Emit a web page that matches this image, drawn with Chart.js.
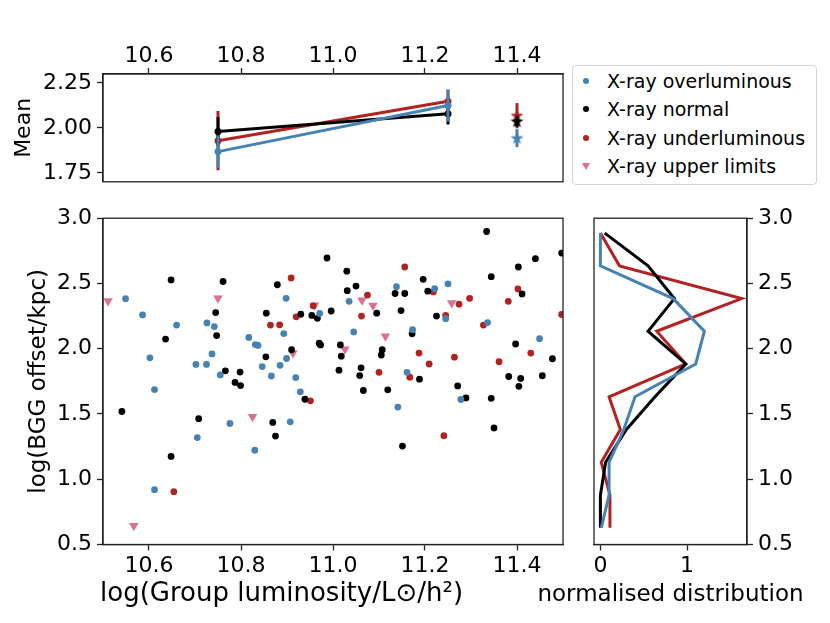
<!DOCTYPE html>
<html>
<head>
<meta charset="utf-8">
<script src="https://cdn.jsdelivr.net/npm/chart.js@4.4.0/dist/chart.umd.min.js"></script>
<style>
  body { margin: 0; background: #fff; }
  #wrap { position: relative; width: 830px; height: 623px; font-family: "DejaVu Sans", sans-serif; }
  #wrap canvas { position: absolute; }
  #legend {
    position: absolute; left: 572px; top: 65px; width: 245px; height: 120px;
    box-sizing: border-box; border: 1px solid #d4d4d4; border-radius: 4px; background: #fff;
  }
  #legend .row { position: absolute; left: 0; height: 28px; line-height: 28px; font-size: 19px; color: #000; white-space: nowrap; }
  #legend .row span.txt { position: absolute; left: 34px; }
  #legend .dot { position: absolute; left: 10px; top: 11px; width: 6px; height: 6px; border-radius: 50%; }
  #legend .tri { position: absolute; left: 9px; top: 11px; width: 0; height: 0;
    border-left: 4px solid transparent; border-right: 4px solid transparent; border-top: 7px solid #db7093; }
</style>
</head>
<body>
<div id="wrap">
  <canvas id="meanChart" width="580" height="200" style="left:0;top:0;width:580px;height:200px"></canvas>
  <canvas id="mainChart" width="580" height="423" style="left:0;top:200px;width:580px;height:423px"></canvas>
  <canvas id="distChart" width="310" height="423" style="left:520px;top:200px;width:310px;height:423px"></canvas>
  <div id="legend">
    <div class="row" style="top:1px"><span class="dot" style="background:#4682b4"></span><span class="txt">X-ray overluminous</span></div>
    <div class="row" style="top:29px"><span class="dot" style="background:#000"></span><span class="txt">X-ray normal</span></div>
    <div class="row" style="top:58px"><span class="dot" style="background:#b22222"></span><span class="txt">X-ray underluminous</span></div>
    <div class="row" style="top:86px"><span class="tri"></span><span class="txt">X-ray upper limits</span></div>
  </div>
</div>
<script>
// colours
const BLUE = "#4682b4";
const BLACK = "#000000";
const RED = "#b22222";
const PINK = "#db7093";
const FONT = "'DejaVu Sans', sans-serif";

// scatter: X-ray overluminous
const overX = [10.549, 10.586, 10.660, 10.602, 10.726, 10.742, 10.702, 10.725, 10.737, 10.755,
  10.817, 10.831, 10.837, 10.846, 10.866, 10.885, 10.899, 10.919, 10.893, 10.898,
  10.971, 11.138, 11.035, 11.221, 11.250, 11.245, 11.336, 11.045, 11.173, 11.449,
  11.161, 10.929, 10.612, 10.776, 10.907, 10.705, 10.830, 10.612, 11.141, 11.278];
const overY = [2.383, 2.259, 2.181, 1.930, 2.198, 2.170, 1.880, 1.880, 1.960, 1.799,
  2.086, 2.032, 2.025, 1.863, 1.791, 1.873, 1.925, 1.779, 2.116, 2.386,
  2.270, 2.475, 2.363, 2.460, 2.497, 2.230, 2.200, 2.129, 2.146, 2.077,
  1.819, 1.670, 1.687, 1.427, 1.440, 1.319, 1.222, 0.920, 1.553, 1.611];

// scatter: X-ray normal
const normalX = [10.648, 10.761, 10.636, 10.745, 10.747, 10.766, 10.798, 10.787, 10.799, 10.854,
  10.910, 10.855, 10.879, 10.930, 10.954, 10.966, 10.996, 10.987, 10.970, 10.973,
  11.334, 11.497, 11.440, 11.030, 11.403, 11.196, 11.344, 11.031, 11.050, 11.135,
  11.156, 11.206, 11.411, 11.095, 11.148, 11.225, 11.172, 11.016, 11.018, 11.107,
  11.105, 11.397, 11.477, 11.013, 11.061, 11.058, 11.188, 11.382, 11.408, 11.455,
  11.271, 11.404, 10.939, 10.541, 10.708, 10.869, 10.875, 10.648, 11.066, 11.119,
  11.289, 11.344, 11.350, 11.151];
const normalY = [2.527, 2.515, 2.074, 2.277, 2.101, 1.831, 1.821, 1.742, 1.718, 1.938,
  1.992, 2.272, 2.490, 2.264, 2.255, 2.233, 2.289, 2.695, 2.042, 2.029,
  2.898, 2.733, 2.690, 2.594, 2.626, 2.532, 2.552, 2.445, 2.480, 2.423,
  2.423, 2.441, 2.420, 2.272, 2.292, 2.250, 2.114, 2.029, 1.943, 1.992,
  1.952, 2.036, 1.923, 1.836, 1.854, 1.794, 1.767, 1.787, 1.772, 1.793,
  1.715, 1.712, 1.613, 1.519, 1.464, 1.435, 1.331, 1.175, 1.680, 1.685,
  1.623, 1.620, 1.393, 1.254];

// scatter: X-ray underluminous
const underX = [10.909, 10.864, 10.884, 10.920, 10.957, 11.156, 11.075, 11.218, 11.402, 11.381,
  11.297, 11.274, 11.062, 11.245, 11.497, 11.327, 11.187, 11.209, 11.264, 11.430,
  11.361, 11.100, 11.167, 10.951, 11.241, 10.654];
const underY = [2.542, 2.181, 2.183, 2.244, 2.329, 2.626, 2.411, 2.435, 2.458, 2.363,
  2.386, 2.341, 2.250, 2.255, 2.262, 2.181, 1.967, 1.883, 1.935, 1.967,
  1.900, 1.819, 1.782, 1.601, 1.334, 0.905];

// scatter: X-ray upper limits
const limitX = [10.511, 10.750, 10.913, 10.960, 11.063, 11.087, 11.114, 11.026, 11.258, 10.825, 10.567];
const limitY = [2.366, 2.386, 1.967, 2.334, 2.371, 2.331, 2.096, 1.995, 2.351, 1.479, 0.643];

// top panel: binned means with errors
const meanX = [10.75, 11.25];
const meanOver = [1.868, 2.125];
const meanOverErr = [0.09, 0.09];
const meanNormal = [1.980, 2.079];
const meanNormalErr = [0.08, 0.06];
const meanUnder = [1.929, 2.148];
const meanUnderErr = [0.165, 0.06];
const starX = [11.4];
const starOver = [1.943];
const starOverErr = [0.05];
const starNormal = [2.036];
const starNormalErr = [0.03];
const starUnder = [2.068];
const starUnderErr = [0.07];

// right panel: normalised distributions per bin
const binCentres = [0.628, 0.879, 1.130, 1.381, 1.632, 1.883, 2.134, 2.384, 2.635, 2.886];
const distOver = [0.01, 0.10, 0.10, 0.27, 0.40, 1.10, 1.20, 0.84, 0.00, 0.00];
const distNormal = [0.00, 0.00, 0.06, 0.30, 0.63, 0.985, 0.55, 0.853, 0.55, 0.05];
const distUnder = [0.11, 0.11, 0.01, 0.23, 0.10, 0.985, 0.65, 1.63, 0.22, 0.00];

// tick labels
const lumTicks = [10.6, 10.8, 11.0, 11.2, 11.4];
const meanTicks = [1.75, 2.00, 2.25];
const offsetTicks = [0.5, 1.0, 1.5, 2.0, 2.5, 3.0];
const distTicks = [0, 1];

const zip = (xs, ys) => xs.map((x, i) => ({ x: x, y: ys[i] }));

// box round each panel
const framePlugin = {
  id: "frame",
  afterDraw(chart) {
    const { ctx, chartArea: a } = chart;
    ctx.save();
    ctx.strokeStyle = "#222";
    ctx.lineWidth = 1.3;
    ctx.strokeRect(a.left, a.top, a.right - a.left, a.bottom - a.top);
    ctx.restore();
  }
};

// x axis label drawn without the scale-width squeeze
const xLabelPlugin = {
  id: "xLabel",
  afterDraw(chart, args, opts) {
    if (!opts.text) return;
    const { ctx, chartArea: a } = chart;
    ctx.save();
    ctx.font = opts.size + "px " + FONT;
    ctx.fillStyle = "#000";
    ctx.textBaseline = "alphabetic";
    ctx.textAlign = opts.align;
    const x = opts.align === "center" ? (a.left + a.right) / 2 : a.left + opts.dx;
    ctx.fillText(opts.text, x, a.bottom + opts.dy);
    ctx.restore();
  }
};

// vertical error bars, drawn just under each dataset
const errorBarPlugin = {
  id: "errorBars",
  beforeDatasetDraw(chart, args) {
    const ds = chart.data.datasets[args.index];
    if (!ds.errors) return;
    const { ctx } = chart;
    const yScale = chart.scales.y;
    ctx.save();
    ctx.strokeStyle = ds.borderColor;
    ctx.lineWidth = 3;
    args.meta.data.forEach((pt, i) => {
      const v = ds.data[i].y, e = ds.errors[i];
      ctx.beginPath();
      ctx.moveTo(pt.x, yScale.getPixelForValue(v - e));
      ctx.lineTo(pt.x, yScale.getPixelForValue(v + e));
      ctx.stroke();
    });
    ctx.restore();
  }
};

function starImage(color) {
  const c = document.createElement("canvas");
  c.width = 15; c.height = 15;
  const g = c.getContext("2d");
  g.fillStyle = color;
  g.beginPath();
  for (let i = 0; i < 10; i++) {
    const r = i % 2 ? 2.7 : 6.8;
    const a = -Math.PI / 2 + i * Math.PI / 5;
    g.lineTo(7.5 + r * Math.cos(a), 7.8 + r * Math.sin(a));
  }
  g.closePath();
  g.fill();
  return c;
}

function fixedTicks(values) {
  return scale => { scale.ticks = values.map(v => ({ value: v })); };
}

const tickFont = { family: FONT, size: 22 };
const gridOpts = { drawOnChartArea: false, color: "#222", tickLength: 6, tickWidth: 1.3 };
const borderOpts = { display: true, color: "#222", width: 1.3 };

Chart.defaults.font.family = FONT;
Chart.defaults.color = "#000";

// ---- top panel: means ----
const lineDs = (label, ys, errs, color) => ({
  label, data: zip(meanX, ys), errors: errs,
  borderColor: color, backgroundColor: color, borderWidth: 3,
  pointRadius: 3.5, pointBorderWidth: 0, showLine: true, tension: 0
});
const starDs = (label, ys, errs, color) => ({
  label, data: zip(starX, ys), errors: errs,
  borderColor: color, backgroundColor: color,
  pointStyle: starImage(color), pointRadius: 7, showLine: false
});

new Chart(document.getElementById("meanChart"), {
  type: "scatter",
  data: {
    datasets: [
      lineDs("over", meanOver, meanOverErr, BLUE),
      lineDs("normal", meanNormal, meanNormalErr, BLACK),
      lineDs("under", meanUnder, meanUnderErr, RED),
      starDs("over*", starOver, starOverErr, BLUE),
      starDs("normal*", starNormal, starNormalErr, BLACK),
      starDs("under*", starUnder, starUnderErr, RED)
    ]
  },
  options: {
    responsive: false,
    animation: false,
    layout: { padding: { left: 0, top: 0, right: 17, bottom: 14 } },
    plugins: { legend: { display: false }, tooltip: { enabled: false } },
    scales: {
      x: {
        type: "linear", position: "top", min: 10.5, max: 11.5,
        afterBuildTicks: fixedTicks(lumTicks),
        afterFit: s => { s.height = 74; },
        ticks: { font: tickFont, padding: -1, maxRotation: 0, autoSkip: false, callback: v => v.toFixed(1) },
        grid: gridOpts, border: borderOpts
      },
      y: {
        min: 1.70, max: 2.30,
        afterBuildTicks: fixedTicks(meanTicks),
        afterFit: s => { s.width = 103; },
        ticks: { font: tickFont, padding: 5, callback: v => v.toFixed(2) },
        grid: gridOpts, border: borderOpts,
        title: { display: true, text: "Mean", font: { family: FONT, size: 22 }, padding: { top: 11, bottom: 0 } }
      }
    }
  },
  plugins: [errorBarPlugin, framePlugin]
});

// ---- main panel: scatter ----
const dotDs = (label, xs, ys, color) => ({
  label, data: zip(xs, ys), backgroundColor: color, borderColor: color,
  pointRadius: 3.4, pointBorderWidth: 0, clip: 0
});

new Chart(document.getElementById("mainChart"), {
  type: "scatter",
  data: {
    datasets: [
      dotDs("X-ray overluminous", overX, overY, BLUE),
      dotDs("X-ray normal", normalX, normalY, BLACK),
      dotDs("X-ray underluminous", underX, underY, RED),
      {
        label: "X-ray upper limits", data: zip(limitX, limitY),
        backgroundColor: PINK, borderColor: PINK, pointStyle: "triangle", rotation: 180,
        pointRadius: 5.5, pointBorderWidth: 0, clip: 0
      }
    ]
  },
  options: {
    responsive: false,
    animation: false,
    layout: { padding: { left: 0, top: 9, right: 17, bottom: 0 } },
    plugins: {
      legend: { display: false }, tooltip: { enabled: false },
      xLabel: { text: "log(Group luminosity/L⊙/h²)", size: 26, align: "left", dx: -3, dy: 56.5 }
    },
    scales: {
      x: {
        type: "linear", min: 10.5, max: 11.5,
        afterBuildTicks: fixedTicks(lumTicks),
        afterFit: s => { s.height = 78.5; },
        ticks: { font: tickFont, padding: 3, maxRotation: 0, autoSkip: false, callback: v => v.toFixed(1) },
        grid: gridOpts, border: borderOpts
      },
      y: {
        min: 0.5, max: 3.0,
        afterBuildTicks: fixedTicks(offsetTicks),
        afterFit: s => { s.width = 103; },
        ticks: { font: tickFont, padding: 5, callback: v => v.toFixed(1) },
        grid: gridOpts, border: borderOpts,
        title: { display: true, text: "log(BGG offset/kpc)", font: { family: FONT, size: 23 }, padding: { top: 25, bottom: 0 } }
      }
    }
  },
  plugins: [framePlugin, xLabelPlugin]
});

// ---- right panel: distributions ----
const distDs = (label, xs, color) => ({
  label, data: zip(xs, binCentres), borderColor: color, backgroundColor: color,
  borderWidth: 3, pointRadius: 0, showLine: true, tension: 0
});

new Chart(document.getElementById("distChart"), {
  type: "scatter",
  data: {
    datasets: [
      distDs("over", distOver, BLUE),
      distDs("normal", distNormal, BLACK),
      distDs("under", distUnder, RED)
    ]
  },
  options: {
    responsive: false,
    animation: false,
    layout: { padding: { left: 74, top: 9, right: 0, bottom: 0 } },
    plugins: {
      legend: { display: false }, tooltip: { enabled: false },
      xLabel: { text: "normalised distribution", size: 23, align: "center", dx: 0, dy: 56.5 }
    },
    scales: {
      x: {
        type: "linear", min: -0.074, max: 1.692,
        afterBuildTicks: fixedTicks(distTicks),
        afterFit: s => { s.height = 78.5; },
        ticks: { font: tickFont, padding: 3, maxRotation: 0, autoSkip: false, callback: v => String(v) },
        grid: gridOpts, border: borderOpts
      },
      y: {
        position: "right", min: 0.5, max: 3.0,
        afterBuildTicks: fixedTicks(offsetTicks),
        afterFit: s => { s.width = 83; },
        ticks: { font: tickFont, padding: 5, callback: v => v.toFixed(1) },
        grid: gridOpts, border: borderOpts
      }
    }
  },
  plugins: [framePlugin, xLabelPlugin]
});
</script>
</body>
</html>
